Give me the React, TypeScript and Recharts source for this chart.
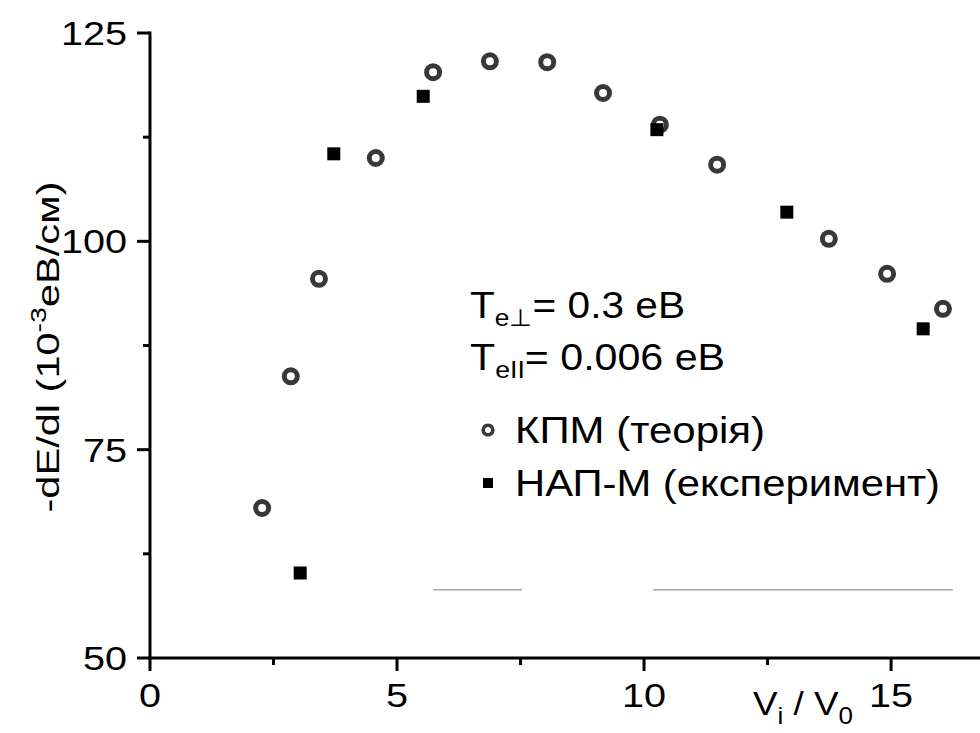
import { ScatterChart, Scatter, XAxis, YAxis, ReferenceLine } from 'recharts';

// КПМ (теорія) — open circles
const kpmX = [2.27, 2.85, 3.42, 4.57, 5.73, 6.88, 8.04, 9.17, 10.32, 11.48, 13.74, 14.92, 16.05];
const kpmY = [68.0, 83.8, 95.5, 110.0, 120.3, 121.6, 121.5, 117.8, 114.0, 109.2, 100.3, 96.1, 91.9];

// НАП-М (експеримент) — filled squares
const napX = [3.04, 3.72, 5.53, 10.26, 12.89, 15.65];
const napY = [60.2, 110.5, 117.4, 113.4, 103.5, 89.5];

// stray grey strokes left in the original figure
const greyLevel = 58.2;
const greySegments = [[5.73, 7.53], [10.18, 16.25]];

const xTicks = [0, 2.5, 5, 7.5, 10, 12.5, 15];
const yTicks = [50, 62.5, 75, 87.5, 100, 112.5, 125];
const xMajor = [0, 5, 10, 15];
const yMajor = [50, 75, 100, 125];

const kpm = kpmX.map((x, i) => ({ x, y: kpmY[i] }));
const nap = napX.map((x, i) => ({ x, y: napY[i] }));

const FONT = '"Liberation Sans", Arial, sans-serif';

const YTick = ({ x, y, payload }: any) => {
  const major = yMajor.includes(payload.value);
  return (
    <g>
      <line x1={x} x2={x - (major ? 13 : 7)} y1={y} y2={y} stroke="#000" strokeWidth={3} />
      {major && (
        <text transform={`translate(${x - 23},${y + 12}) scale(1.2,1)`} textAnchor="end"
          fontSize={33} fontFamily={FONT} fill="#000">
          {payload.value}
        </text>
      )}
    </g>
  );
};

const XTick = ({ x, y, payload }: any) => {
  const major = xMajor.includes(payload.value);
  return (
    <g>
      <line x1={x} x2={x} y1={y} y2={y + (major ? 13 : 7)} stroke="#000" strokeWidth={3} />
      {major && (
        <text transform={`translate(${x},${y + 49}) scale(1.2,1)`} textAnchor="middle"
          fontSize={33} fontFamily={FONT} fill="#000">
          {payload.value}
        </text>
      )}
    </g>
  );
};

const Ring = ({ cx, cy }: any) => (
  <circle cx={cx} cy={cy} r={6.5} fill="#fff" stroke="#383838" strokeWidth={5} />
);

const Block = ({ cx, cy }: any) => (
  <rect x={cx - 6.5} y={cy - 6.5} width={13} height={13} fill="#000" />
);

const Overlay = () => (
  <svg width={980} height={733} style={{ position: 'absolute', left: 0, top: 0 }} fontFamily={FONT}>
    <text transform="translate(59,347) rotate(-90)" textAnchor="middle" fontSize={32}
      textLength={331} lengthAdjust="spacingAndGlyphs">
      -dE/dl (10<tspan dy={-13} fontSize={22}>-3</tspan><tspan dy={13}>еВ/см)</tspan>
    </text>
    <text x={753} y={715} fontSize={34} textLength={100} lengthAdjust="spacingAndGlyphs">
      V<tspan dy={9} fontSize={24}>i</tspan><tspan dy={-9}> / V</tspan><tspan dy={9} fontSize={24}>0</tspan>
    </text>
    <text x={470} y={318} fontSize={37} textLength={215} lengthAdjust="spacingAndGlyphs">
      T<tspan dy={8} fontSize={24}>e⊥</tspan><tspan dy={-8}>= 0.3 еВ</tspan>
    </text>
    <text x={470} y={370} fontSize={37} textLength={255} lengthAdjust="spacingAndGlyphs">
      T<tspan dy={8} fontSize={24}>eII</tspan><tspan dy={-8}>= 0.006 еВ</tspan>
    </text>
    <circle cx={488} cy={430} r={4.8} fill="#fff" stroke="#383838" strokeWidth={3.5} />
    <text x={515} y={443} fontSize={37} textLength={250} lengthAdjust="spacingAndGlyphs">КПМ (теорія)</text>
    <rect x={483} y={478} width={10} height={10} fill="#000" />
    <text x={515} y={496} fontSize={37} textLength={425} lengthAdjust="spacingAndGlyphs">НАП-М (експеримент)</text>
  </svg>
);

export default function App() {
  return (
    <div style={{ position: 'absolute', left: 0, top: 0, width: 980, height: 733, background: '#fff' }}>
      <ScatterChart width={980} height={733} margin={{ top: 33, right: 0, bottom: 0, left: 0 }}>
        <XAxis type="number" dataKey="x" domain={[0, 16.8]} ticks={xTicks} interval={0}
          height={75} tickSize={0} tickMargin={0} tickLine={false} tick={<XTick />}
          axisLine={{ stroke: '#000', strokeWidth: 3, strokeLinecap: 'square' }} allowDataOverflow />
        <YAxis type="number" dataKey="y" domain={[50, 125]} ticks={yTicks} interval={0}
          width={150} tickSize={0} tickMargin={0} tickLine={false} tick={<YTick />}
          axisLine={{ stroke: '#000', strokeWidth: 3, strokeLinecap: 'square' }} allowDataOverflow />
        {greySegments.map(([a, b], i) => (
          <ReferenceLine key={i} segment={[{ x: a, y: greyLevel }, { x: b, y: greyLevel }]}
            stroke="#a8a8a8" strokeWidth={1.5} ifOverflow="visible" />
        ))}
        <Scatter name="КПМ (теорія)" data={kpm} shape={<Ring />} isAnimationActive={false} />
        <Scatter name="НАП-М (експеримент)" data={nap} shape={<Block />} isAnimationActive={false} />
      </ScatterChart>
      <Overlay />
    </div>
  );
}
